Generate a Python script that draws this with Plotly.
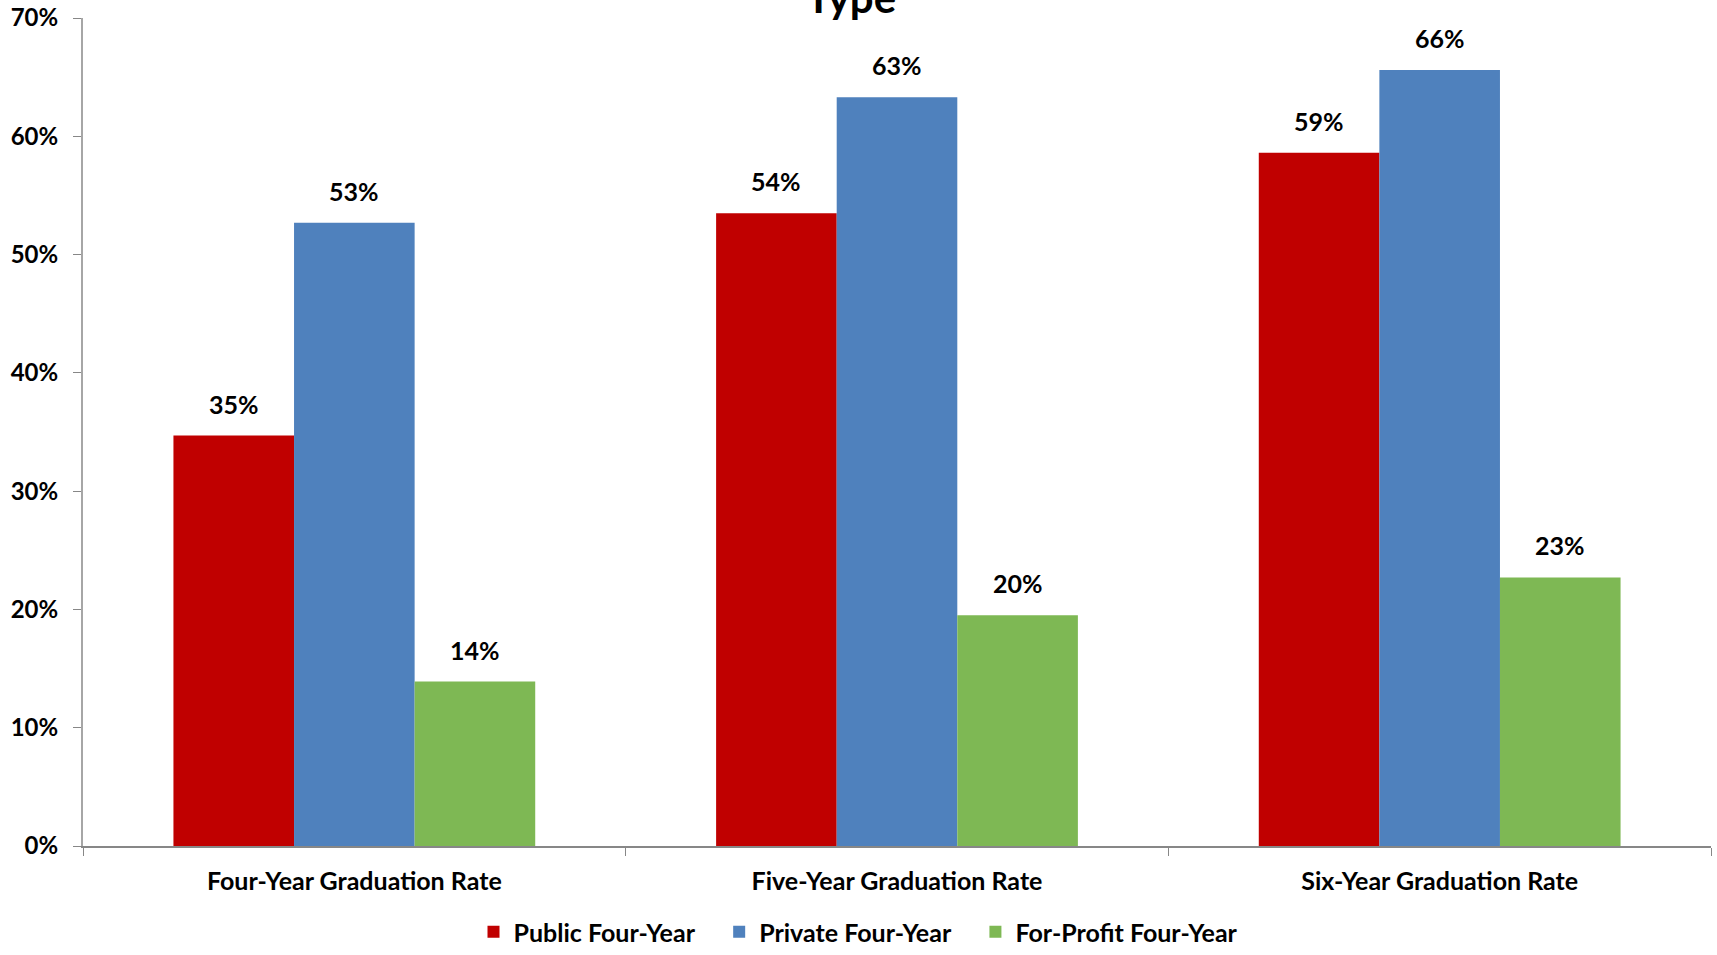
import plotly.graph_objects as go

categories = ["Four-Year Graduation Rate", "Five-Year Graduation Rate", "Six-Year Graduation Rate"]
series_names = ["Public Four-Year", "Private Four-Year", "For-Profit Four-Year"]
public_vals = [0.347, 0.535, 0.586]
private_vals = [0.527, 0.633, 0.656]
forprofit_vals = [0.139, 0.195, 0.227]
label_text = [["35%", "54%", "59%"], ["53%", "63%", "66%"], ["14%", "20%", "23%"]]
colors = ["#C00000", "#4F81BD", "#7EB854"]

FONT = "Lato"
BARGAP = 1 / 3

fig = go.Figure()
all_vals = [public_vals, private_vals, forprofit_vals]
n = len(series_names)
for k, (name, vals, col) in enumerate(zip(series_names, all_vals, colors)):
    pad = "&nbsp;&nbsp;&nbsp;" if k < n - 1 else ""
    fig.add_trace(go.Bar(x=categories, y=vals, name="<b>%s</b>%s" % (name, pad),
                         marker=dict(color=col, line=dict(width=0))))

bw = (1 - BARGAP) / 3
for j, vals in enumerate(all_vals):
    for i, v in enumerate(vals):
        fig.add_annotation(x=i + (j - 1) * bw, y=v, text="<b>%s</b>" % label_text[j][i],
                           showarrow=False, yanchor="bottom", yshift=15,
                           font=dict(family=FONT, size=25, color="#000000"))

fig.add_annotation(xref="paper", yref="paper", x=0.472, y=1.0, yanchor="bottom", yshift=-6,
                   text="<b>Type</b>", showarrow=False,
                   font=dict(family=FONT, size=42, color="#000000"))

fig.update_layout(
    width=1717, height=955,
    margin=dict(l=83, r=6, t=18, b=109, autoexpand=False),
    plot_bgcolor="white", paper_bgcolor="white",
    barmode="group", bargap=BARGAP, bargroupgap=0,
    font=dict(family=FONT, color="#000000"),
    showlegend=True,
    legend=dict(orientation="h", x=0.5, xanchor="center", xref="container",
                y=-0.006, yanchor="bottom", yref="container",
                font=dict(family=FONT, size=25, color="#000000"),
                itemwidth=30, tracegroupgap=0),
)
fig.update_xaxes(
    showline=True, linecolor="#878787", linewidth=2,
    ticks="outside", tickson="boundaries", ticklen=8, tickcolor="#878787", tickwidth=1,
    tickfont=dict(family=FONT, size=25, color="#000000"),
    tickprefix="<b>", ticksuffix="</b>",
    showgrid=False, ticklabelstandoff=12, automargin=False,
)
fig.update_yaxes(
    range=[0, 0.7], dtick=0.1, tickformat=".0%",
    showline=True, linecolor="#A6A6A6", linewidth=2,
    ticks="outside", ticklen=8, tickcolor="#878787", tickwidth=1,
    tickfont=dict(family=FONT, size=24, color="#000000"),
    tickprefix="<b>", ticksuffix="</b>",
    showgrid=False, zeroline=False, ticklabelstandoff=10, automargin=False,
)

fig.write_html("out.html")
